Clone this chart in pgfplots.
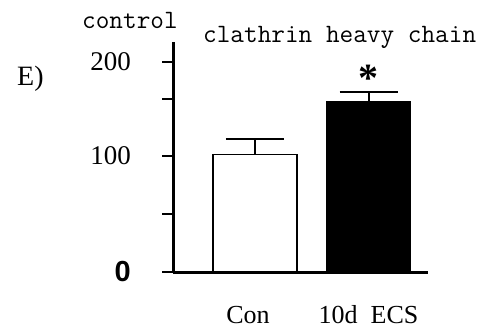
\documentclass[border=0pt]{standalone}
\usepackage{fontspec}
\setmainfont{Liberation Serif}
\newfontfamily\sansfont{Liberation Sans}
\usepackage{pgfplots}
\pgfplotsset{compat=1.18}
\begin{document}
\begin{tikzpicture}[x=1bp,y=1bp]
\useasboundingbox (0,0) rectangle (499,334);
\begin{axis}[
  at={(173bp,62bp)}, anchor=south west,
  scale only axis, width=255bp, height=230bp,
  xmin=-0.722, xmax=1.524, ymin=0, ymax=198.3,
  axis lines*=left,
  axis line style={line width=3bp, black},
  ytick={0,50,100,149,181},
  yticklabels={{\raisebox{-4bp}{\sansfont\bfseries\fontsize{29bp}{30bp}\selectfont 0}},{},{\raisebox{-8bp}{100}},{},{200}},
  yticklabel style={anchor=east, inner sep=0pt, xshift=-31bp, font=\fontsize{27bp}{30bp}\selectfont},
  xtick={0,1},
  xticklabels={{Con\hspace*{14bp}},{10d\ \ ECS}},
  xticklabel style={anchor=base, inner sep=0pt, yshift=-40bp, font=\fontsize{26bp}{30bp}\selectfont},
  x tick style={draw=none},
  y tick style={line width=2.5bp, black},
  major tick length=11bp,
  tick align=outside,
  ybar, bar shift=0pt, bar width=84bp,
  clip=false,
]
\addplot[fill=white, draw=black, line width=1.5bp,
  error bars/.cd, y dir=plus, y explicit,
  error bar style={line width=2bp, black},
  error mark options={rotate=90, mark size=29bp, line width=2bp, black}]
  coordinates {(0,101.5) +- (0,13.5)};
\addplot[fill=black, draw=black, line width=1.5bp,
  error bars/.cd, y dir=plus, y explicit,
  error bar style={line width=2bp, black},
  error mark options={rotate=90, mark size=29bp, line width=2bp, black}]
  coordinates {(1,147) +- (0,8)};
\node[inner sep=0pt, anchor=center] at (axis cs:1,167) {\bfseries\fontsize{40bp}{40bp}\selectfont *};
\end{axis}
\node[anchor=base west, inner sep=0pt] at (82,306) {\ttfamily\fontsize{26.5bp}{28bp}\selectfont control};
\node[anchor=base west, inner sep=0pt] at (203,292) {\ttfamily\fontsize{26.5bp}{28bp}\selectfont clathrin heavy chain};
\node[anchor=base west, inner sep=0pt] at (17,249) {\fontsize{28bp}{30bp}\selectfont E)};
\end{tikzpicture}
\end{document}
